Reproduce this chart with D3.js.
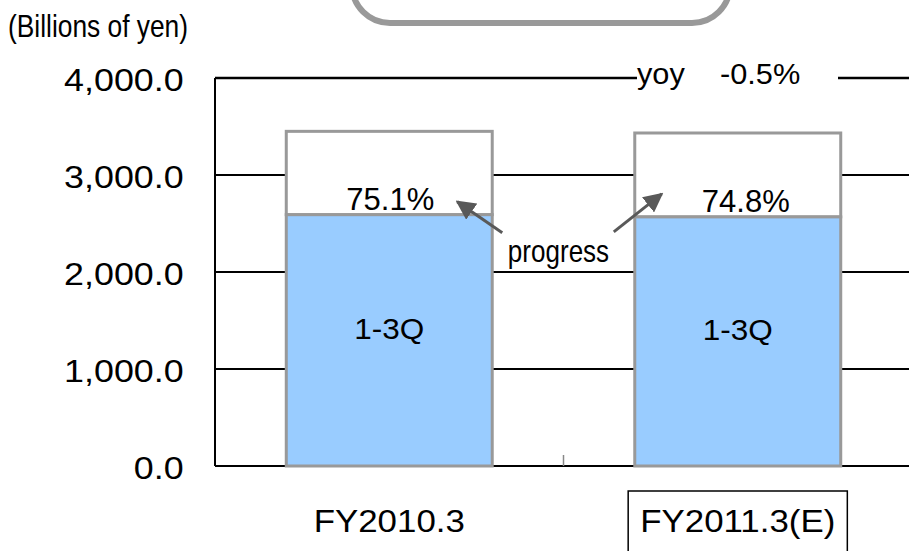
<!DOCTYPE html>
<html>
<head>
<meta charset="utf-8">
<script src="https://cdn.jsdelivr.net/npm/d3@7"></script>
<style>
  html, body { margin: 0; padding: 0; background: #fff; }
  svg { display: block; }
  text { font-family: "Liberation Sans", Arial, sans-serif; fill: #000; }
</style>
</head>
<body>
<svg id="chart" width="909" height="551"></svg>
<script>
// ---- data ----
const categories = ["FY2010.3", "FY2011.3(E)"];
const q13Values = [2591, 2568];          // 1-3Q results (billions of yen)
const fullYearValues = [3450, 3433];     // full-year totals
const progressLabels = ["75.1%", "74.8%"];
const segmentLabel = "1-3Q";
const yoyLabels = ["yoy", "-0.5%"];
const yTicks = [0, 1000, 2000, 3000, 4000];
const unitLabel = "(Billions of yen)";
const progressText = "progress";

// ---- layout ----
const W = 909, H = 551;
const plot = { left: 215, right: 912, top: 78, bottom: 466 };
const svg = d3.select("#chart");

const x = d3.scaleBand().domain(categories).range([plot.left, plot.right]).paddingInner(0.409).paddingOuter(0.2045);
const y = d3.scaleLinear().domain([0, 4000]).range([plot.bottom, plot.top]);

const GRAY = "#999999", BLUE = "#99CCFF", ARROW = "#595959";

// top rounded box (cut off at top of image)
svg.append("rect").attr("x", 352).attr("y", -60).attr("width", 378).attr("height", 83)
  .attr("rx", 38).attr("ry", 38).attr("fill", "#fff").attr("stroke", GRAY).attr("stroke-width", 6);

// unit label
svg.append("text").attr("transform", "translate(8,37) scale(0.85,1)")
  .attr("font-size", 31).text(unitLabel);

// gridlines
svg.append("g").selectAll("line").data(yTicks.filter(d => d > 0)).join("line")
  .attr("x1", plot.left).attr("x2", W)
  .attr("y1", d => y(d)).attr("y2", d => y(d))
  .attr("stroke", "#000").attr("stroke-width", d => d === 4000 ? 2.5 : 2);

// axes lines
svg.append("line").attr("x1", plot.left).attr("x2", plot.left).attr("y1", y(4000)).attr("y2", y(0))
  .attr("stroke", "#000").attr("stroke-width", 2);
svg.append("line").attr("x1", plot.left).attr("x2", W).attr("y1", y(0)).attr("y2", y(0))
  .attr("stroke", "#000").attr("stroke-width", 2);

// small separator tick between categories
const midX = (x(categories[0]) + x.bandwidth() + x(categories[1])) / 2;
svg.append("line").attr("x1", midX).attr("x2", midX).attr("y1", y(0) - 11).attr("y2", y(0))
  .attr("stroke", "#888").attr("stroke-width", 1.5);

// y axis labels
const yAxis = svg.append("g").attr("transform", `translate(${plot.left},0)`)
  .call(d3.axisLeft(y).tickValues(yTicks).tickFormat(d3.format(",.1f")).tickSize(0).tickPadding(28));
yAxis.select(".domain").remove();
yAxis.selectAll("text").attr("font-size", 32).attr("font-family", "Liberation Sans, Arial, sans-serif")
  .attr("fill", "#000").attr("dy", 12).attr("transform", "scale(1.12,1)");

// bars: upper (full year) white segment
const bars = svg.append("g");
bars.selectAll("rect.full").data(categories).join("rect").attr("class", "full")
  .attr("x", d => x(d)).attr("width", x.bandwidth())
  .attr("y", (d, i) => y(fullYearValues[i]))
  .attr("height", (d, i) => y(q13Values[i]) - y(fullYearValues[i]))
  .attr("fill", "#fff").attr("stroke", GRAY).attr("stroke-width", 3);
bars.selectAll("rect.q").data(categories).join("rect").attr("class", "q")
  .attr("x", d => x(d)).attr("width", x.bandwidth())
  .attr("y", (d, i) => y(q13Values[i]))
  .attr("height", (d, i) => y(0) - y(q13Values[i]))
  .attr("fill", BLUE).attr("stroke", GRAY).attr("stroke-width", 3);

// segment labels
svg.selectAll("text.seg").data(categories).join("text").attr("class", "seg")
  .attr("text-anchor", "middle").attr("font-size", 30)
  .attr("transform", (d, i) => `translate(${x(d) + x.bandwidth() / 2},${y(q13Values[i] / 2) - 1}) scale(1.05,1)`)
  .text(segmentLabel);

// progress % labels
const pctOffsets = [1, 8];
svg.selectAll("text.pct").data(categories).join("text").attr("class", "pct")
  .attr("text-anchor", "middle").attr("font-size", 31)
  .attr("x", (d, i) => x(d) + x.bandwidth() / 2 + pctOffsets[i])
  .attr("y", (d, i) => y(q13Values[i]) - 5)
  .text((d, i) => progressLabels[i]);

// yoy label with white background over top gridline
const yoyX = 637;
svg.append("rect").attr("x", yoyX).attr("y", y(4000) - 12).attr("width", 838 - yoyX).attr("height", 24).attr("fill", "#fff");
const yoyPos = [yoyX, 720];
svg.selectAll("text.yoy").data(yoyLabels).join("text").attr("class", "yoy")
  .attr("transform", (d, i) => `translate(${yoyPos[i]},${y(4000) + 6}) scale(1.06,1)`)
  .attr("font-size", 29).text(d => d);

// progress annotation
svg.append("text").attr("text-anchor", "middle")
  .attr("transform", `translate(${midX - 5},${y(q13Values[0]) + 47}) scale(0.84,1)`)
  .attr("font-size", 31).text(progressText);

const defs = svg.append("defs");
defs.append("marker").attr("id", "ah").attr("viewBox", "0 0 10 10").attr("refX", 9).attr("refY", 5)
  .attr("markerWidth", 6.5).attr("markerHeight", 6.5).attr("markerUnits", "strokeWidth").attr("orient", "auto")
  .append("path").attr("d", "M0,0 L10,5 L0,10 Z").attr("fill", ARROW);

const b1Right = x(categories[0]) + x.bandwidth();
const b2Left = x(categories[1]);
const arrows = [
  { x1: b1Right + 10, y1: y(q13Values[0]) + 18, x2: b1Right - 35, y2: y(q13Values[0]) - 13 },
  { x1: b2Left - 21, y1: y(q13Values[1]) + 15, x2: b2Left + 27, y2: y(q13Values[1]) - 23 }
];
svg.selectAll("line.arrow").data(arrows).join("line").attr("class", "arrow")
  .attr("x1", d => d.x1).attr("y1", d => d.y1).attr("x2", d => d.x2).attr("y2", d => d.y2)
  .attr("stroke", ARROW).attr("stroke-width", 3).attr("marker-end", "url(#ah)");

// category labels
const catG = svg.selectAll("g.cat").data(categories).join("g").attr("class", "cat")
  .attr("transform", d => `translate(${x(d) + x.bandwidth() / 2},532)`);
catG.append("text").attr("text-anchor", "middle").attr("font-size", 32)
  .attr("transform", "scale(1.09,1)").text(d => d);
// box around the estimate label
catG.filter((d, i) => i === 1).each(function () {
  const t = d3.select(this).select("text").node().getBBox();
  const s = 1.09;
  d3.select(this).insert("rect", "text")
    .attr("x", t.x * s - 12).attr("y", -41).attr("width", t.width * s + 24).attr("height", 70)
    .attr("fill", "none").attr("stroke", "#000").attr("stroke-width", 1.5);
});
</script>
</body>
</html>
